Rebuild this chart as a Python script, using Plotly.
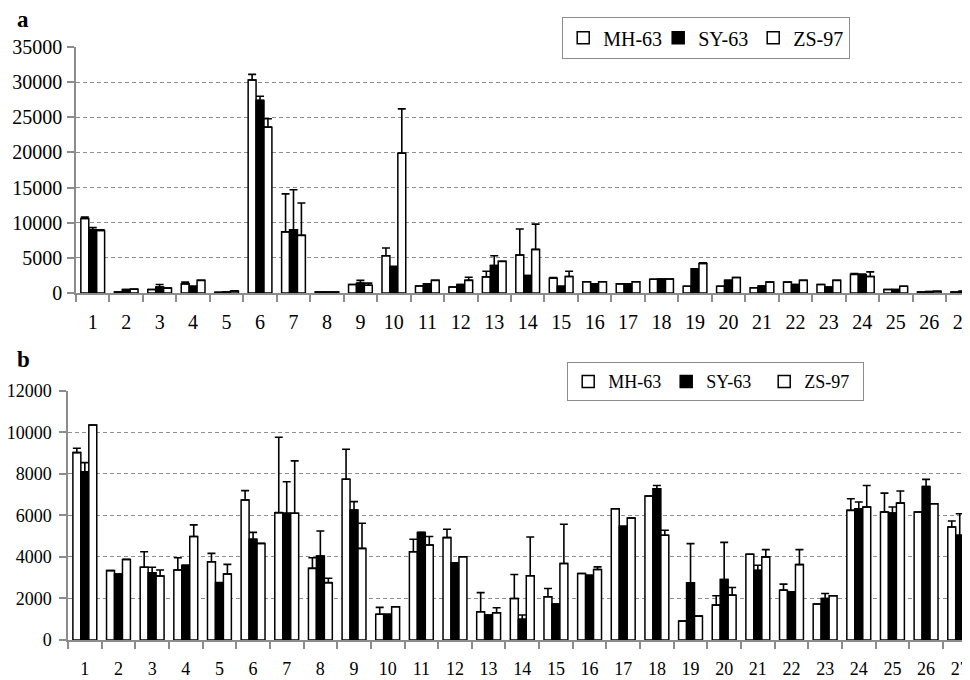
import plotly.graph_objects as go

categories = [str(i) for i in range(1, 28)]
series_names = ["MH-63", "SY-63", "ZS-97"]

# Panel a
mh_a = [10600, 150, 500, 1300, 100, 30300, 8700, 150, 1200, 5300, 1000, 850, 2300, 5400,
        2100, 1600, 1300, 1950, 950, 950, 750, 1550, 1200, 2650, 500, 150, 150]
mh_a_err = [200, 0, 0, 250, 0, 800, 5400, 0, 0, 1100, 0, 0, 800, 3700,
            100, 0, 0, 0, 0, 0, 0, 0, 0, 100, 0, 0, 0]
sy_a = [9000, 500, 850, 950, 150, 27400, 9000, 150, 1400, 3700, 1300, 1200, 3900, 2500,
        950, 1300, 1300, 2000, 3450, 1800, 1000, 1200, 850, 2600, 500, 200, 250]
sy_a_err = [300, 0, 350, 0, 0, 600, 5700, 0, 400, 100, 0, 0, 1400, 0,
            0, 0, 0, 0, 0, 0, 0, 0, 0, 100, 0, 0, 0]
zs_a = [8900, 550, 700, 1800, 300, 23600, 8200, 150, 1100, 19900, 1800, 1800, 4500, 6200,
        2350, 1600, 1600, 2000, 4200, 2200, 1550, 1800, 1800, 2350, 950, 250, 300]
zs_a_err = [100, 0, 0, 0, 0, 1200, 4600, 0, 300, 6300, 0, 450, 0, 3600,
            750, 0, 0, 0, 100, 0, 0, 0, 0, 650, 0, 0, 0]

# Panel b
mh_b = [9020, 3340, 3500, 3370, 3770, 6740, 6130, 3450, 7740, 1240, 4250, 4930, 1360, 2000,
        2080, 3200, 6320, 6930, 910, 1680, 4130, 2400, 1730, 6240, 6160, 6160, 5440]
mh_b_err = [210, 0, 750, 590, 400, 450, 3630, 510, 1440, 330, 600, 400, 920, 1150,
            400, 0, 0, 0, 0, 450, 0, 290, 0, 560, 910, 0, 290]
sy_b = [8100, 3180, 3240, 3600, 2760, 4850, 6100, 4040, 6260, 1240, 5180, 3720, 1200, 1000,
        1730, 3120, 5470, 7280, 2750, 2910, 3350, 2320, 2000, 6320, 6110, 7390, 5040]
sy_b_err = [440, 0, 260, 0, 0, 330, 1520, 1210, 400, 0, 0, 0, 0, 200,
            0, 0, 0, 160, 1890, 1790, 250, 0, 240, 320, 290, 340, 1040]
zs_b = [10350, 3880, 3080, 4980, 3180, 4650, 6100, 2760, 4410, 1600, 4570, 4010, 1310, 3090,
        3680, 3390, 5870, 5040, 1150, 2160, 4000, 3630, 2130, 6400, 6590, 6560, 4880]
zs_b_err = [0, 0, 290, 560, 460, 0, 2520, 210, 1210, 0, 410, 0, 240, 1870,
            1890, 130, 0, 240, 0, 370, 350, 720, 0, 1040, 580, 0, 0]

yticks_a = [0, 5000, 10000, 15000, 20000, 25000, 30000, 35000]
yticks_b = [0, 2000, 4000, 6000, 8000, 10000, 12000]

fills = ["white", "black", "white"]
SERIF = "Liberation Serif, Times New Roman, serif"

# page body has an 8px margin; size the figure to fill the rest of the window
OFF = 8
SCREEN_W, SCREEN_H = 970, 680
W, H = SCREEN_W - OFF, SCREEN_H - OFF

fig = go.Figure()

panel_a = [(mh_a, mh_a_err), (sy_a, sy_a_err), (zs_a, zs_a_err)]
panel_b = [(mh_b, mh_b_err), (sy_b, sy_b_err), (zs_b, zs_b_err)]

for name, fill, (vals, errs) in zip(series_names, fills, panel_a):
    fig.add_trace(go.Bar(
        x=categories, y=vals, name=name, xaxis="x", yaxis="y", legend="legend",
        marker=dict(color=fill, line=dict(color="black", width=1.5)),
        error_y=dict(type="data", array=errs, symmetric=False, color="black",
                     thickness=1.6, width=4),
    ))

for name, fill, (vals, errs) in zip(series_names, fills, panel_b):
    fig.add_trace(go.Bar(
        x=categories, y=vals, name=name, xaxis="x2", yaxis="y2", legend="legend2",
        marker=dict(color=fill, line=dict(color="black", width=1.5)),
        error_y=dict(type="data", array=errs, symmetric=False, color="black",
                     thickness=1.6, width=4),
    ))

def px_x(p):
    return (p - OFF) / W

def px_y(p):
    return (H - (p - OFF)) / H

axis_common = dict(
    showline=True, linecolor="#8c8c8c", linewidth=1.5, automargin=False,
    ticks="outside", tickcolor="#8c8c8c", ticklen=7, tickwidth=1.5,
)

ax_left, ax_step = 76, 33.46
bx_left, bx_step = 68, 33.65

fig.update_layout(
    template="none",
    width=W, height=H,
    margin=dict(l=0, r=0, t=0, b=0, autoexpand=False),
    paper_bgcolor="white", plot_bgcolor="white",
    barmode="group", bargap=0.29, bargroupgap=0.0,
    font=dict(family=SERIF, color="black", size=20),
    showlegend=True,
    xaxis=dict(
        domain=[px_x(ax_left), 1.0], anchor="y", type="category",
        range=[-0.5, -0.5 + (SCREEN_W - ax_left) / ax_step],
        tickson="boundaries", showgrid=False,
        tickfont=dict(family=SERIF, size=20), ticklabelstandoff=10,
        **axis_common,
    ),
    yaxis=dict(
        domain=[px_y(293), px_y(47)], anchor="x",
        range=[0, 35000], tickvals=yticks_a, ticktext=[str(v) for v in yticks_a],
        showgrid=True, gridcolor="#8f8f8f", gridwidth=1, griddash="4px,3px",
        zeroline=False, tickfont=dict(family=SERIF, size=20), ticklabelstandoff=1,
        **axis_common,
    ),
    xaxis2=dict(
        domain=[px_x(bx_left), 1.0], anchor="y2", type="category",
        range=[-0.5, -0.5 + (SCREEN_W - bx_left) / bx_step],
        tickson="boundaries", showgrid=False,
        tickfont=dict(family=SERIF, size=18), ticklabelstandoff=12,
        **axis_common,
    ),
    yaxis2=dict(
        domain=[px_y(640), px_y(390.7)], anchor="x2",
        range=[0, 12000], tickvals=yticks_b, ticktext=[str(v) for v in yticks_b],
        showgrid=True, gridcolor="#8f8f8f", gridwidth=1, griddash="4px,3px",
        zeroline=False, tickfont=dict(family=SERIF, size=18), ticklabelstandoff=4,
        **axis_common,
    ),
    legend=dict(
        orientation="h", x=px_x(562), y=px_y(17), xanchor="left", yanchor="top",
        bgcolor="white", bordercolor="#8c8c8c", borderwidth=1.2,
        font=dict(family=SERIF, size=20), entrywidth=50, itemwidth=30,
    ),
    legend2=dict(
        orientation="h", x=px_x(567), y=px_y(362), xanchor="left", yanchor="top",
        bgcolor="white", bordercolor="#8c8c8c", borderwidth=1.2,
        font=dict(family=SERIF, size=18), entrywidth=53, itemwidth=30,
    ),
    annotations=[
        dict(text="<b>a</b>", x=px_x(23), y=px_y(19), xref="paper", yref="paper",
             xanchor="center", yanchor="middle",
             showarrow=False, font=dict(family=SERIF, size=23)),
        dict(text="<b>b</b>", x=px_x(23), y=px_y(359), xref="paper", yref="paper",
             xanchor="center", yanchor="middle",
             showarrow=False, font=dict(family=SERIF, size=23)),
    ],
)

fig.write_html("out.html")
